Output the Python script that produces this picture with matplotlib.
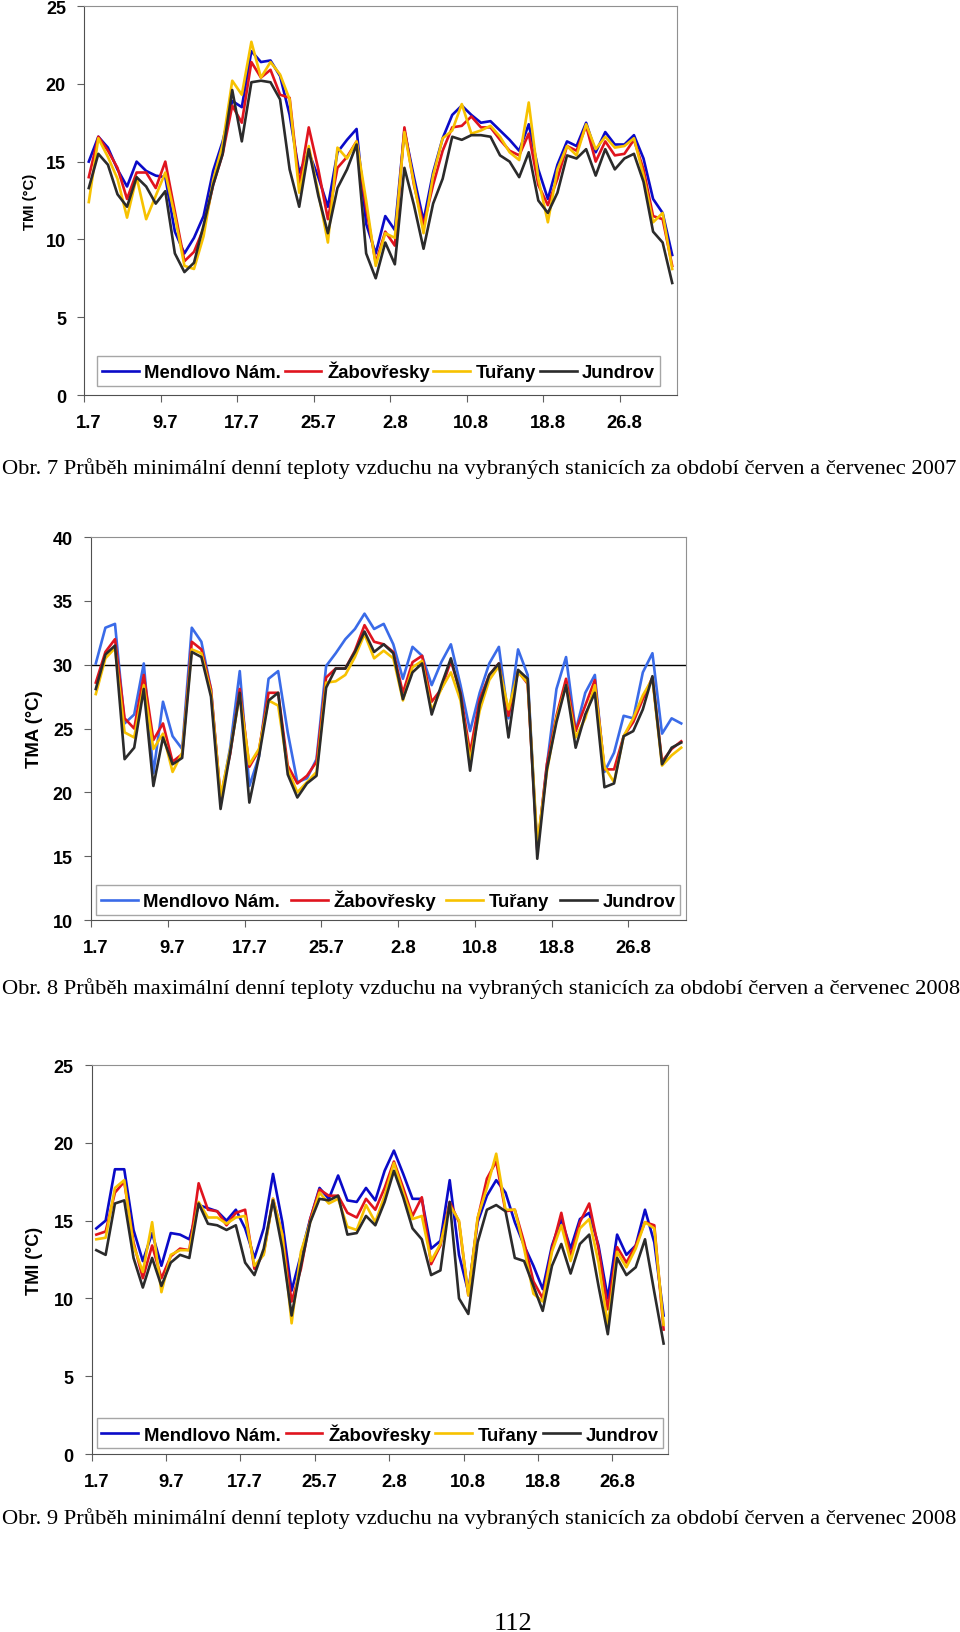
import numpy as np
import matplotlib
matplotlib.use('Agg')
import matplotlib.pyplot as plt
from matplotlib.ticker import FixedLocator, NullFormatter

plt.rcParams['font.family'] = ['Liberation Sans', 'DejaVu Sans']
plt.rcParams['font.weight'] = 'bold'

# categories: 1.7 .. 31.8
dates = [f'{d}.7' for d in range(1, 32)] + [f'{d}.8' for d in range(1, 32)]
stations = ['Mendlovo Nám.', 'Žabovřesky', 'Tuřany', 'Jundrov']

# Obr. 7 - TMI 2007
tmi07_mendlovo = [15.0, 16.6, 15.9, 14.5, 13.4, 15.0, 14.4, 14.1, 14.0, 10.5, 9.1, 10.1, 11.5, 14.4, 16.3, 18.9,
                  18.5, 22.1, 21.4, 21.5, 20.5, 18.0, 14.3, 15.6, 14.0, 12.1, 15.6, 16.4, 17.1, 11.0, 9.1,
                  11.5, 10.6, 17.0, 14.0, 11.2, 14.3, 16.5, 18.0, 18.6, 18.0, 17.5, 17.6, 17.0, 16.4, 15.7,
                  17.4, 14.5, 12.6, 14.8, 16.3, 16.0, 17.5, 15.6, 16.9, 16.1, 16.1, 16.7, 15.2, 12.6, 11.7, 9.0]
tmi07_zabovresky = [14.0, 16.6, 15.7, 14.6, 12.6, 14.3, 14.3, 13.3, 15.0, 11.8, 8.6, 9.2, 10.7, 13.5, 15.5, 18.6,
                    17.5, 21.4, 20.4, 20.9, 19.3, 19.1, 13.5, 17.2, 14.5, 11.3, 14.6, 15.3, 16.3, 12.0, 8.5,
                    10.5, 9.6, 17.2, 13.5, 10.9, 13.5, 15.7, 17.2, 17.3, 17.9, 17.2, 17.2, 16.4, 15.7, 15.4,
                    16.8, 13.5, 12.2, 13.9, 16.0, 15.7, 17.3, 15.0, 16.3, 15.4, 15.5, 16.4, 14.5, 11.5, 11.3, 8.3]
tmi07_turany = [12.4, 16.5, 15.3, 13.9, 11.4, 14.0, 11.3, 12.8, 14.3, 11.5, 8.3, 8.1, 10.2, 13.8, 16.1, 20.2,
                19.3, 22.7, 20.4, 21.4, 20.6, 19.0, 13.0, 16.0, 13.0, 9.8, 15.9, 15.2, 16.3, 12.5, 8.3,
                10.4, 10.1, 16.9, 13.6, 10.4, 14.1, 16.5, 17.0, 18.7, 16.8, 17.0, 17.3, 16.6, 15.6, 15.1,
                18.8, 13.9, 11.1, 14.5, 16.0, 15.4, 17.4, 15.8, 16.6, 15.9, 16.0, 16.5, 14.1, 11.1, 11.7, 8.1]
tmi07_jundrov = [13.3, 15.5, 14.8, 12.9, 12.1, 14.0, 13.4, 12.3, 13.1, 9.1, 7.9, 8.5, 10.9, 13.5, 15.5, 19.6,
                 16.3, 20.1, 20.2, 20.1, 19.0, 14.5, 12.1, 15.8, 12.8, 10.4, 13.3, 14.5, 16.1, 9.1, 7.5,
                 9.8, 8.4, 14.6, 12.2, 9.4, 12.3, 13.9, 16.6, 16.4, 16.7, 16.7, 16.6, 15.4, 15.0, 14.0,
                 15.6, 12.5, 11.7, 13.0, 15.4, 15.2, 15.8, 14.1, 15.8, 14.5, 15.2, 15.5, 13.7, 10.5, 9.8, 7.2]

# Obr. 8 - TMA 2008
tma08_mendlovo = [30.1, 32.9, 33.2, 25.4, 26.1, 30.1, 21.5, 27.1, 24.4, 23.4, 32.9, 31.8, 28.1, 19.4, 23.5, 29.5,
                  20.5, 22.8, 28.9, 29.5, 24.7, 20.8, 21.1, 22.6, 29.9, 30.9, 32.0, 32.8, 34.0, 32.8, 33.2,
                  31.6, 28.9, 31.4, 30.7, 28.4, 30.2, 31.6, 28.4, 24.8, 27.8, 30.1, 31.4, 25.8, 31.2, 29.2,
                  15.5, 22.1, 28.1, 30.6, 24.8, 27.8, 29.2, 21.6, 23.1, 26.0, 25.8, 29.4, 30.9, 24.6, 25.8, 25.4]
tma08_zabovresky = [28.6, 31.0, 32.0, 25.8, 25.0, 29.2, 24.1, 25.4, 22.4, 23.0, 31.8, 31.2, 28.1, 19.6, 23.0, 28.1,
                    22.0, 23.3, 27.8, 27.8, 22.1, 20.7, 21.3, 22.4, 29.0, 29.7, 29.7, 31.1, 33.1, 31.8, 31.6,
                    31.0, 27.8, 30.2, 30.7, 27.1, 28.1, 30.3, 27.8, 23.1, 27.3, 29.2, 30.1, 26.0, 29.5, 28.5,
                    15.5, 22.2, 26.0, 28.9, 24.8, 26.8, 28.8, 21.8, 21.8, 24.4, 25.5, 27.3, 29.0, 22.4, 23.4, 24.0]
tma08_turany = [27.7, 30.5, 31.3, 24.7, 24.3, 28.4, 23.4, 24.6, 21.6, 23.1, 31.2, 30.9, 27.8, 19.7, 23.3, 27.6,
                22.2, 23.4, 27.2, 26.8, 21.8, 20.0, 20.8, 21.6, 28.6, 28.7, 29.2, 30.6, 32.4, 30.5, 31.1,
                30.5, 27.2, 29.8, 30.3, 26.4, 28.1, 29.4, 27.2, 22.5, 26.4, 28.8, 29.9, 26.5, 29.4, 28.6,
                16.0, 21.6, 25.8, 28.4, 24.3, 25.8, 28.4, 22.0, 20.8, 24.4, 25.8, 27.6, 28.9, 22.1, 22.9, 23.5]
tma08_jundrov = [28.1, 30.8, 31.5, 22.6, 23.5, 28.1, 20.5, 24.3, 22.2, 22.7, 31.0, 30.6, 27.5, 18.7, 23.1, 27.8,
                 19.2, 22.8, 27.2, 27.8, 21.4, 19.6, 20.7, 21.3, 28.2, 29.7, 29.7, 31.0, 32.6, 31.0, 31.6,
                 30.9, 27.3, 29.4, 30.1, 26.1, 28.4, 30.5, 27.7, 21.7, 26.9, 29.2, 30.1, 24.3, 29.6, 28.9,
                 14.8, 21.8, 25.5, 28.4, 23.5, 26.1, 27.8, 20.4, 20.7, 24.4, 24.8, 26.5, 29.1, 22.2, 23.5, 23.9]

# Obr. 9 - TMI 2008
tmi08_mendlovo = [14.5, 15.0, 18.3, 18.3, 14.4, 12.4, 14.2, 12.1, 14.2, 14.1, 13.8, 16.0, 15.8, 15.6, 15.0, 15.7,
                  14.5, 12.6, 14.5, 18.0, 14.9, 10.5, 12.8, 15.1, 17.1, 16.4, 17.9, 16.3, 16.2, 17.1, 16.3,
                  18.2, 19.5, 18.0, 16.4, 16.4, 13.2, 13.7, 17.6, 12.8, 10.4, 14.9, 16.6, 17.6, 16.8, 14.9,
                  13.4, 12.1, 10.6, 13.4, 15.1, 13.2, 15.1, 15.5, 13.4, 10.0, 14.1, 12.8, 13.4, 15.7, 13.6, 8.9]
tmi08_zabovresky = [14.1, 14.3, 16.8, 17.5, 13.6, 11.3, 13.4, 11.3, 12.7, 13.2, 13.1, 17.4, 15.7, 15.6, 14.7, 15.5,
                    15.7, 11.9, 12.9, 16.4, 14.1, 9.8, 11.9, 15.1, 17.0, 16.6, 16.6, 15.5, 15.2, 16.4, 15.7,
                    17.1, 18.8, 17.1, 15.3, 16.5, 12.2, 13.4, 16.2, 14.9, 10.2, 15.1, 17.7, 18.8, 15.6, 15.7,
                    13.6, 11.1, 10.0, 13.2, 15.5, 12.7, 14.9, 16.1, 13.2, 9.3, 13.3, 12.3, 13.4, 14.9, 14.7, 8.0]
tmi08_turany = [13.8, 13.9, 17.1, 17.6, 13.4, 11.7, 14.9, 10.4, 12.8, 13.1, 13.1, 16.2, 15.2, 15.2, 14.8, 15.2,
                15.3, 12.1, 12.8, 16.4, 14.1, 8.4, 13.0, 14.9, 16.8, 16.1, 16.4, 14.6, 14.4, 16.0, 14.9,
                16.6, 18.7, 16.8, 15.1, 15.3, 12.4, 13.5, 16.0, 15.0, 10.2, 15.2, 17.1, 19.3, 15.7, 15.7,
                13.2, 10.3, 9.8, 13.0, 14.7, 12.4, 14.5, 15.1, 12.3, 8.3, 13.0, 12.0, 13.2, 14.9, 14.5, 8.3]
tmi08_jundrov = [13.1, 12.8, 16.1, 16.3, 12.6, 10.7, 12.6, 10.8, 12.3, 12.8, 12.6, 16.1, 14.8, 14.7, 14.4, 14.7,
                 12.3, 11.5, 13.2, 16.3, 13.2, 8.9, 12.1, 14.9, 16.4, 16.3, 16.6, 14.1, 14.2, 15.3, 14.7,
                 16.2, 18.2, 16.5, 14.5, 13.8, 11.5, 11.8, 16.2, 10.0, 9.0, 13.6, 15.7, 16.0, 15.6, 12.6,
                 12.4, 10.8, 9.2, 12.1, 13.5, 11.6, 13.5, 14.1, 10.8, 7.7, 12.6, 11.5, 12.0, 13.8, 10.4, 7.1]

dark_cols = ['#0A0AC8', '#E0141E', '#F7C200', '#2B2B2B']
light_cols = ['#3A6BE8', '#E0141E', '#F7C200', '#2B2B2B']

captions = [
    'Obr. 7 Průběh minimální denní teploty vzduchu na vybraných stanicích za období červen a červenec 2007',
    'Obr. 8 Průběh maximální denní teploty vzduchu na vybraných stanicích za období červen a červenec 2008',
    'Obr. 9 Průběh minimální denní teploty vzduchu na vybraných stanicích za období červen a červenec 2008',
]


def plot_panel(ax, series, colors, ymin, ymax, ystep, ylabel, ylabel_size, ylabel_x, legend_box):
    ''' one Excel-like line chart '''
    x = np.arange(len(dates))
    for vals, name, c in zip(series, stations, colors):
        ax.plot(x, vals, color=c, lw=1.9, label=name)

    ax.set_xlim(-0.5, len(dates) - 0.5)
    ax.set_ylim(ymin, ymax)
    ax.set_yticks(np.arange(ymin, ymax + 1, ystep))

    # category axis: tick marks between categories, labels on the categories
    ax.xaxis.set_major_locator(FixedLocator(np.arange(-0.5, len(dates), 8)))
    ax.xaxis.set_major_formatter(NullFormatter())
    ax.xaxis.set_minor_locator(FixedLocator(np.arange(0, len(dates), 8)))
    ax.set_xticklabels(dates[::8], minor=True)
    ax.tick_params(axis='x', which='major', length=5, color='#606060', direction='out')
    ax.tick_params(axis='x', which='minor', length=0, pad=14, labelsize=13.3)
    ax.tick_params(axis='y', length=5, color='#606060', pad=8, labelsize=13)

    for side in ['left', 'bottom']:
        ax.spines[side].set_color('#505050')
    for side in ['top', 'right']:
        ax.spines[side].set_color('#909090')

    ax.set_ylabel(ylabel, fontsize=ylabel_size, fontweight='bold')
    ax.yaxis.set_label_coords(ylabel_x, 0.5)

    leg = ax.legend(ncol=4, loc='lower left', bbox_to_anchor=legend_box, mode='expand',
                    fancybox=False, edgecolor='#909090', fontsize=13.3, handlelength=2.0,
                    handletextpad=0.3, borderpad=0.25, borderaxespad=0, columnspacing=0.6)
    leg.get_frame().set_linewidth(1.0)


fig = plt.figure(figsize=(9.6, 16.33), dpi=100)

ax1 = fig.add_axes([0.0875, 0.7575, 0.6177, 0.2382])
plot_panel(ax1, [tmi07_mendlovo, tmi07_zabovresky, tmi07_turany, tmi07_jundrov], dark_cols,
           0, 25, 5, 'TMI (°C)', 10.7, -0.079, (0.022, 0.023, 0.949, 0.077))

ax2 = fig.add_axes([0.0948, 0.436, 0.6198, 0.2345])
ax2.axhline(30, color='black', lw=1.0, zorder=1)
plot_panel(ax2, [tma08_mendlovo, tma08_zabovresky, tma08_turany, tma08_jundrov], light_cols,
           10, 40, 5, 'TMA (°C)', 13.3, -0.081, (0.0084, 0.013, 0.9816, 0.073))

ax3 = fig.add_axes([0.0955, 0.109, 0.6006, 0.2382])
plot_panel(ax3, [tmi08_mendlovo, tmi08_zabovresky, tmi08_turany, tmi08_jundrov], dark_cols,
           0, 25, 5, 'TMI (°C)', 13, -0.0845, (0.009, 0.015, 0.982, 0.08))

# captions under the charts
for ytxt, txt in zip([474, 994, 1524], captions):
    fig.text(0.002, 1 - ytxt / 1633, txt, family='Liberation Serif', fontweight='normal',
             fontsize=16.2, ha='left', va='baseline')

fig.text(513 / 960, 3 / 1633, '112', family='Liberation Serif', fontweight='normal',
         fontsize=19, ha='center', va='baseline')

fig.savefig('out.png', dpi=100)
